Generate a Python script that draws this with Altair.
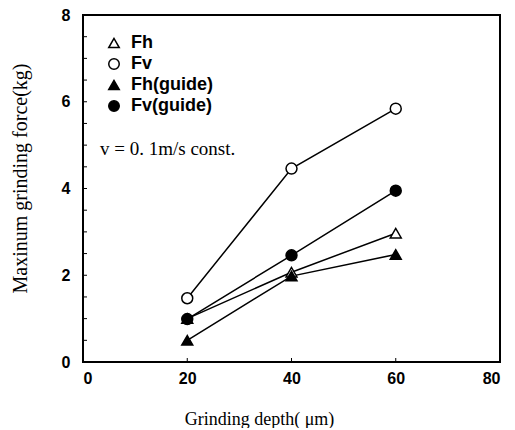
import altair as alt
import pandas as pd

depth = [20, 40, 60]
series_names = ["Fh", "Fv", "Fh(guide)", "Fv(guide)"]
fh = [1.0, 2.07, 2.97]
fv = [1.47, 4.46, 5.84]
fh_guide = [0.5, 1.98, 2.48]
fv_guide = [0.99, 2.46, 3.95]
shapes = ["triangle-up", "circle", "triangle-up", "circle"]
fills = ["white", "white", "black", "black"]
strokes = ["black", "black", "black", "black"]
x_ticks = [0, 20, 40, 60, 80]
y_ticks = [0, 2, 4, 6, 8]
y_minor = [0.5, 1, 1.5, 2, 2.5, 3, 3.5, 4, 4.5, 5, 5.5, 6, 6.5, 7, 7.5]
x_minor = [20, 40, 60]

rows = []
for name, vals in zip(series_names, [fh, fv, fh_guide, fv_guide]):
    for d, v in zip(depth, vals):
        rows.append({"depth": d, "force": v, "series": name})
df = pd.DataFrame(rows)

W, H = 417, 347
xs = alt.Scale(domain=[0, 80], nice=False, zero=False)
ys = alt.Scale(domain=[0, 8], nice=False)

x_axis = alt.Axis(values=x_ticks, format="d", title="Grinding depth( \u03bcm)",
                  labelFont="Liberation Sans", labelFontWeight="bold", labelFontSize=16,
                  labelColor="black", labelPadding=8, ticks=False, domain=False, grid=False,
                  titleFont="Liberation Serif", titleFontWeight="normal", titleFontSize=18,
                  titleColor="black", titleX=176, titleY=57, titleAlign="center",
                  titleBaseline="middle", titleAnchor="start")
y_axis = alt.Axis(values=y_ticks, format="d", title="Maxinum grinding force(kg)",
                  labelFont="Liberation Sans", labelFontWeight="bold", labelFontSize=16,
                  labelColor="black", labelPadding=13, ticks=False, domain=False, grid=False,
                  titleFont="Liberation Serif", titleFontWeight="normal", titleFontSize=20,
                  titleColor="black", titleX=-63, titleY=163, titleAlign="center",
                  titleBaseline="middle", titleAngle=-90, titleAnchor="start")

base = alt.Chart(df)

lines = base.mark_line(color="black", strokeWidth=1.5).encode(
    x=alt.X("depth:Q", scale=xs, axis=x_axis),
    y=alt.Y("force:Q", scale=ys, axis=y_axis),
    detail="series:N",
)

points = base.mark_point(filled=True, size=120, strokeWidth=1.5, opacity=1).encode(
    x=alt.X("depth:Q", scale=xs),
    y=alt.Y("force:Q", scale=ys),
    shape=alt.Shape("series:N", scale=alt.Scale(domain=series_names, range=shapes),
                    legend=alt.Legend(title=None, orient="none", legendX=22, legendY=19,
                                      labelFont="Liberation Sans", labelFontWeight="bold",
                                      labelFontSize=18, labelColor="black", symbolSize=110,
                                      symbolStrokeColor="black", symbolStrokeWidth=1.5,
                                      rowPadding=3, labelOffset=8, padding=0)),
    fill=alt.Fill("series:N", scale=alt.Scale(domain=series_names, range=fills), legend=None),
    stroke=alt.Stroke("series:N", scale=alt.Scale(domain=series_names, range=strokes), legend=None),
)

ydf = pd.DataFrame({"v": y_minor})
ytick_marks = alt.Chart(ydf).mark_rule(color="black", strokeWidth=1).encode(
    y=alt.Y("v:Q", scale=ys), x=alt.value(0), x2=alt.value(4))
xdf = pd.DataFrame({"v": x_minor})
xtick_marks = alt.Chart(xdf).mark_rule(color="black", strokeWidth=1).encode(
    x=alt.X("v:Q", scale=xs), y=alt.value(H), y2=alt.value(H - 4))

note = alt.Chart(pd.DataFrame({"t": ["v = 0. 1m/s const."]})).mark_text(
    font="Liberation Serif", fontSize=19, align="left", baseline="middle", color="black"
).encode(text="t:N", x=alt.value(17), y=alt.value(134))

chart = alt.layer(lines, points, ytick_marks, xtick_marks, note).properties(
    width=W, height=H,
    autosize=alt.AutoSizeParams(type="none"),
    padding={"left": 75, "top": 7, "right": 7, "bottom": 66},
).configure_view(stroke="black", strokeWidth=2)

chart.save("out.html", embed_options={"renderer": "svg", "actions": False})
